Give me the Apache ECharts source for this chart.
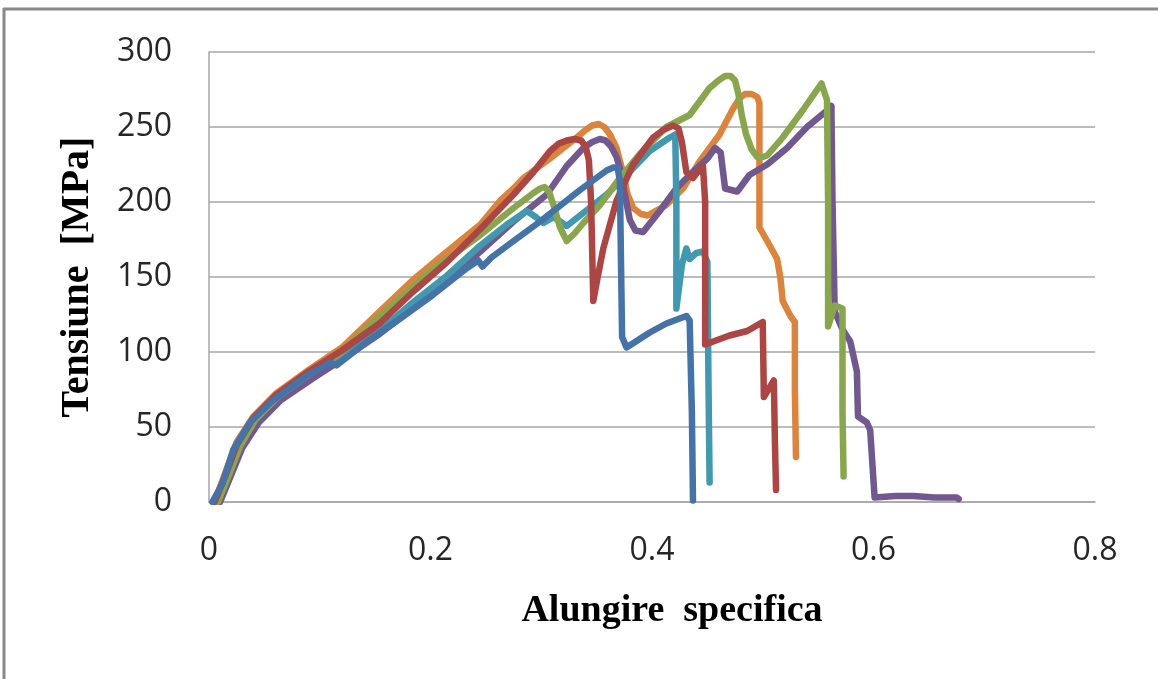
<!DOCTYPE html>
<html>
<head>
<meta charset="utf-8">
<script src="https://cdn.jsdelivr.net/npm/echarts@6/dist/echarts.min.js"></script>
<style>
  html, body { margin: 0; padding: 0; background: #ffffff; }
  #chart { width: 1158px; height: 679px; }
</style>
</head>
<body>
<div id="chart"></div>
<script>
// Tensile test curves: specific elongation (x) vs. stress in MPa (y)
const xTicks = [0, 0.2, 0.4, 0.6, 0.8];
const yTicks = [0, 50, 100, 150, 200, 250, 300];

const specimenBlue = [
  [0.003,0],[0.012,12],[0.022,35],[0.037,53],[0.058,68],[0.088,84],[0.105,91],[0.11,93],[0.115,91],
  [0.143,107],[0.172,122],[0.202,138],[0.233,156],[0.243,161],[0.247,157],[0.255,163],[0.275,174],
  [0.299,187],[0.335,208],[0.359,221],[0.365,223],[0.369,223],[0.371,214],[0.372,160],[0.373,110],
  [0.377,103],[0.398,113],[0.413,119],[0.431,124],[0.434,121],[0.436,60],[0.437,1]
];
const specimenOrange = [
  [0.005,0],[0.015,20],[0.025,40],[0.04,57],[0.06,72],[0.09,88],[0.12,103],[0.154,127],[0.184,148],
  [0.215,167],[0.245,185],[0.263,201],[0.275,209],[0.284,216],[0.308,229],[0.332,243],[0.34,248],
  [0.346,251],[0.352,252],[0.357,250],[0.362,245],[0.368,236],[0.373,222],[0.378,205],[0.383,196],
  [0.39,192],[0.396,191],[0.413,198],[0.428,209],[0.443,227],[0.461,245],[0.473,262],[0.479,269],
  [0.484,272],[0.49,272],[0.495,270],[0.497,266],[0.497,230],[0.497,183],[0.504,174],[0.513,162],
  [0.516,149],[0.518,134],[0.525,124],[0.529,120],[0.529,75],[0.530,30]
];
const specimenRed = [
  [0.005,0],[0.015,18],[0.025,38],[0.04,56],[0.06,71],[0.09,87],[0.12,101],[0.154,119],[0.184,140],
  [0.215,160],[0.245,182],[0.275,205],[0.293,220],[0.308,234],[0.316,239],[0.323,241],[0.33,242],
  [0.336,241],[0.34,237],[0.343,228],[0.345,200],[0.347,134],[0.351,150],[0.356,169],[0.368,201],
  [0.383,225],[0.401,243],[0.41,248],[0.419,251],[0.424,249],[0.427,240],[0.431,220],[0.437,216],
  [0.446,224],[0.448,200],[0.448,105],[0.47,111],[0.486,114],[0.5,120],[0.501,70],[0.51,81],
  [0.511,40],[0.512,8]
];
const specimenGreen = [
  [0.008,0],[0.018,18],[0.028,37],[0.042,55],[0.062,70],[0.09,85],[0.12,100],[0.15,121],[0.2,154],
  [0.245,178],[0.275,196],[0.293,206],[0.299,209],[0.303,210],[0.307,207],[0.311,198],[0.317,183],
  [0.323,174],[0.33,179],[0.338,186],[0.353,198],[0.371,216],[0.389,232],[0.413,250],[0.434,258],
  [0.452,276],[0.46,281],[0.466,284],[0.471,284],[0.475,281],[0.478,272],[0.481,258],[0.485,245],
  [0.49,235],[0.495,230],[0.5,230],[0.504,231],[0.518,243],[0.536,261],[0.553,279],[0.558,268],
  [0.559,200],[0.559,117],[0.565,131],[0.572,129],[0.572,60],[0.573,17]
];
const specimenPurple = [
  [0.01,0],[0.02,18],[0.03,36],[0.045,53],[0.065,68],[0.095,83],[0.12,95],[0.154,112],[0.184,129],
  [0.215,148],[0.245,167],[0.275,187],[0.305,205],[0.323,224],[0.338,236],[0.346,240],[0.353,242],
  [0.358,241],[0.363,237],[0.368,230],[0.372,220],[0.376,203],[0.38,188],[0.385,181],[0.392,180],
  [0.407,194],[0.422,209],[0.434,218],[0.45,229],[0.457,236],[0.462,233],[0.466,209],[0.477,207],
  [0.488,218],[0.504,225],[0.522,236],[0.54,250],[0.558,261],[0.562,264],[0.563,200],[0.565,127],
  [0.572,115],[0.579,107],[0.582,97],[0.585,87],[0.586,57],[0.594,53],[0.597,48],[0.601,3],
  [0.62,4],[0.636,4],[0.655,3],[0.675,3],[0.677,2]
];
const specimenCyan = [
  [0.006,0],[0.016,19],[0.026,38],[0.041,55],[0.06,70],[0.09,85],[0.12,99],[0.154,114],[0.184,133],
  [0.215,151],[0.245,171],[0.269,185],[0.287,194],[0.295,190],[0.302,186],[0.311,190],[0.323,184],
  [0.335,191],[0.359,205],[0.377,218],[0.398,234],[0.416,243],[0.421,245],[0.422,200],[0.422,129],
  [0.427,158],[0.431,169],[0.434,162],[0.44,166],[0.446,167],[0.45,160],[0.451,80],[0.452,13]
];

// drawing order: first listed is drawn underneath
const curves = [
  { name: 'Epruveta 6', data: specimenOrange, color: '#DB843D' },
  { name: 'Epruveta 4', data: specimenPurple, color: '#71588F' },
  { name: 'Epruveta 5', data: specimenCyan,   color: '#4198AF' },
  { name: 'Epruveta 3', data: specimenGreen,  color: '#89A54E' },
  { name: 'Epruveta 2', data: specimenRed,    color: '#AA4643' },
  { name: 'Epruveta 1', data: specimenBlue,   color: '#4572A7' }
];

const chart = echarts.init(document.getElementById('chart'), null, { renderer: 'canvas' });

const gridColor = '#a6a6a6';
const tickFont = { fontFamily: 'Open Sans', fontSize: 32, color: '#262626' };
const titleFont = { fontFamily: 'Liberation Serif', fontWeight: 'bold', color: '#000000' };

chart.setOption({
  backgroundColor: '#ffffff',
  animation: false,
  grid: { left: 209, right: 63, top: 52, bottom: 177, containLabel: false },
  xAxis: {
    type: 'value',
    min: xTicks[0],
    max: xTicks[xTicks.length - 1],
    interval: xTicks[1] - xTicks[0],
    name: 'Alungire  specifica',
    nameLocation: 'middle',
    nameGap: 90,
    nameTextStyle: Object.assign({ fontSize: 38, padding: [0, 0, 0, 40] }, titleFont),
    axisLine: { show: true, lineStyle: { color: gridColor, width: 1.5 } },
    axisTick: { show: false },
    splitLine: { show: false },
    axisLabel: Object.assign({ margin: 33, formatter: v => String(Math.round(v * 10) / 10) }, tickFont)
  },
  yAxis: {
    type: 'value',
    min: yTicks[0],
    max: yTicks[yTicks.length - 1],
    interval: yTicks[1] - yTicks[0],
    name: 'Tensiune  [MPa]',
    nameLocation: 'middle',
    nameGap: 111,
    nameTextStyle: Object.assign({ fontSize: 40 }, titleFont),
    axisLine: { show: true, lineStyle: { color: gridColor, width: 1.5 } },
    axisTick: { show: false },
    splitLine: { show: true, lineStyle: { color: gridColor, width: 1.5 } },
    axisLabel: Object.assign({ margin: 37 }, tickFont)
  },
  graphic: [
    { type: 'line', shape: { x1: 3, y1: 9, x2: 1158, y2: 9 }, style: { stroke: '#888888', lineWidth: 3 } },
    { type: 'line', shape: { x1: 4, y1: 8, x2: 4, y2: 679 }, style: { stroke: '#888888', lineWidth: 3 } }
  ],
  series: curves.map(c => ({
    name: c.name,
    type: 'line',
    data: c.data,
    showSymbol: false,
    symbol: 'none',
    smooth: false,
    lineStyle: { color: c.color, width: 6.5, cap: 'round', join: 'round' },
    itemStyle: { color: c.color }
  }))
});
</script>
</body>
</html>
